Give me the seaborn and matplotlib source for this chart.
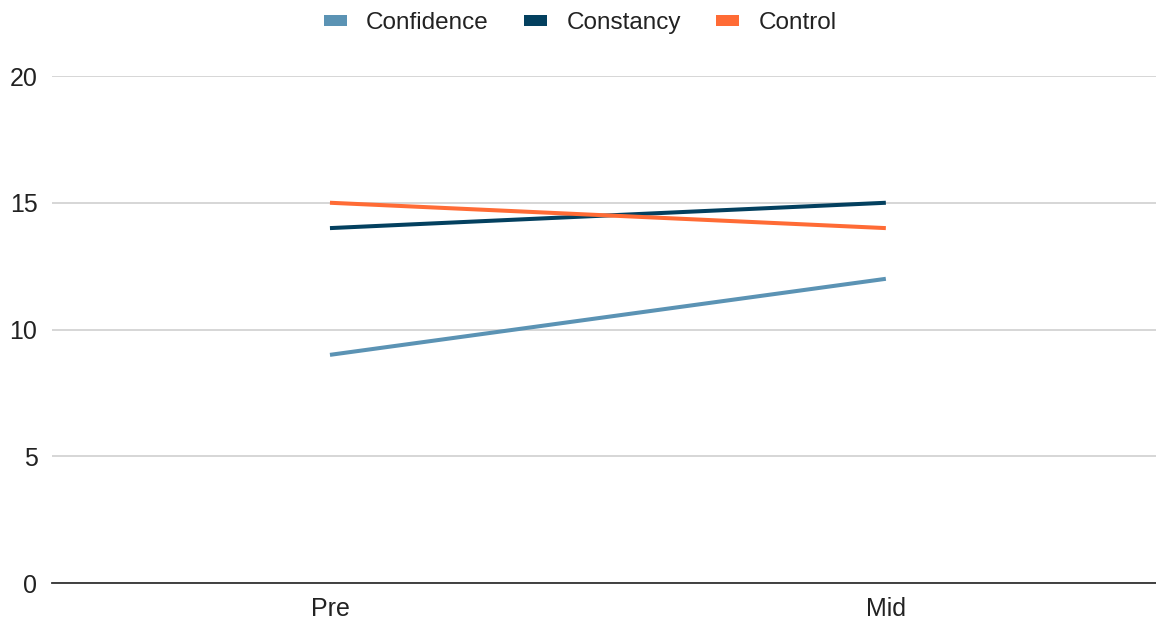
import matplotlib
matplotlib.use("Agg")
import matplotlib.pyplot as plt
from matplotlib.patches import Patch
import seaborn as sns
import pandas as pd

categories = ["Pre", "Mid"]
confidence = [9, 12]
constancy = [14, 15]
control = [15, 14]
series_names = ["Confidence", "Constancy", "Control"]
colors = ["#5b93b4", "#03405f", "#ff6b35"]

rows = []
for name, vals in zip(series_names, [confidence, constancy, control]):
    for cat, v in zip(categories, vals):
        rows.append({"stage": cat, "score": v, "series": name})
df = pd.DataFrame(rows)

sns.set_theme(style="white")
plt.rcParams["font.family"] = ["Liberation Sans", "DejaVu Sans"]

fig = plt.figure(figsize=(11.56, 6.22), dpi=100)
ax = fig.add_axes([0.045, 0.0627, 0.955, 0.8151])

sns.lineplot(data=df, x="stage", y="score", hue="series", palette=colors,
             hue_order=series_names, sort=False, linewidth=2.9, ax=ax,
             legend=False, solid_capstyle="butt")

ax.set_xlim(-0.5, 1.486)
ax.set_ylim(0, 20)
ax.set_yticks([0, 5, 10, 15, 20])
ax.yaxis.grid(True, color="#cccccc", linewidth=1.1)
ax.set_axisbelow(True)
for s in ["top", "right", "left"]:
    ax.spines[s].set_visible(False)
ax.spines["bottom"].set_color("#333333")
ax.spines["bottom"].set_linewidth(1.3)
ax.tick_params(axis="both", length=0, labelsize=18, colors="#222222")
ax.tick_params(axis="y", pad=10.5)
ax.tick_params(axis="x", pad=10)
ax.set_xlabel("")
ax.set_ylabel("")

handles = [Patch(facecolor=c, edgecolor="none", label=n) for n, c in zip(series_names, colors)]
ax.legend(handles=handles, loc="center", bbox_to_anchor=(0.502, 0.963),
          bbox_transform=fig.transFigure, ncol=3, frameon=False, fontsize=17.5,
          handlelength=0.95, handleheight=0.35, columnspacing=1.45, handletextpad=0.8,
          labelcolor="#222222")

fig.savefig("out.png", dpi=100)
